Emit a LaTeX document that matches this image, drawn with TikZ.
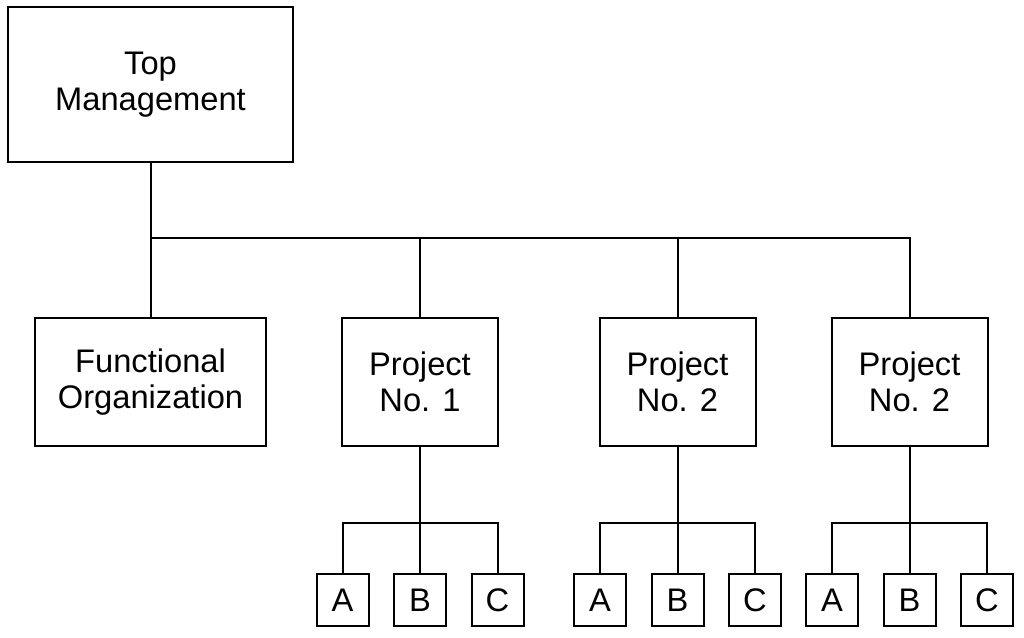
\documentclass[tikz,border=0pt]{standalone}
\usepackage{fontspec}
\setmainfont{Liberation Sans}
\usetikzlibrary{positioning}
\tikzset{
  box/.style={draw=black, line width=1.5pt, align=center, inner sep=2pt, font=\fontsize{24.5pt}{27pt}\selectfont},
  bigbox/.style={box, minimum width=213.75pt, minimum height=116.25pt},
  orgbox/.style={box, minimum width=173.25pt, minimum height=96pt},
  projbox/.style={box, minimum width=117pt, minimum height=96pt},
  smallbox/.style={box, minimum width=39pt, minimum height=39pt, inner sep=0pt},
  link/.style={line width=1.5pt}
}
\begin{document}
\begin{tikzpicture}[x=0.75pt, y=-0.75pt]
\useasboundingbox (0,0) rectangle (1024,638);
\node[bigbox] (top) at (150.5,84.5) {Top\\Management};
\node[orgbox] (func) at (150.5,382) {Functional\\Organization};
\node[projbox] (p1) at (420,382) {Project\\No. 1};
\node[projbox] (p2) at (677.5,382) {Project\\No. 2};
\node[projbox] (p3) at (909.5,382) {Project\\No. 2};
\coordinate (bus) at (0,238);
\coordinate (subbus) at (0,523);
\draw[link] (top.south) -- (top.south |- bus) -| (p3.north);
\draw[link] (func.north) -- (func.north |- bus);
\draw[link] (p1.north) -- (p1.north |- bus);
\draw[link] (p2.north) -- (p2.north |- bus);
% A, B, C under each project
\foreach \p/\x in {1/420, 2/677.5, 3/909.5} {
  \node[smallbox] (a\p) at (\x-77.5,600) {A};
  \node[smallbox] (b\p) at (\x,600) {B};
  \node[smallbox] (c\p) at (\x+77.5,600) {C};
  \draw[link] (p\p.south) -- (b\p.north);
  \draw[link] (a\p.north) -- (a\p.north |- subbus) -| (c\p.north);
}
\end{tikzpicture}
\end{document}
